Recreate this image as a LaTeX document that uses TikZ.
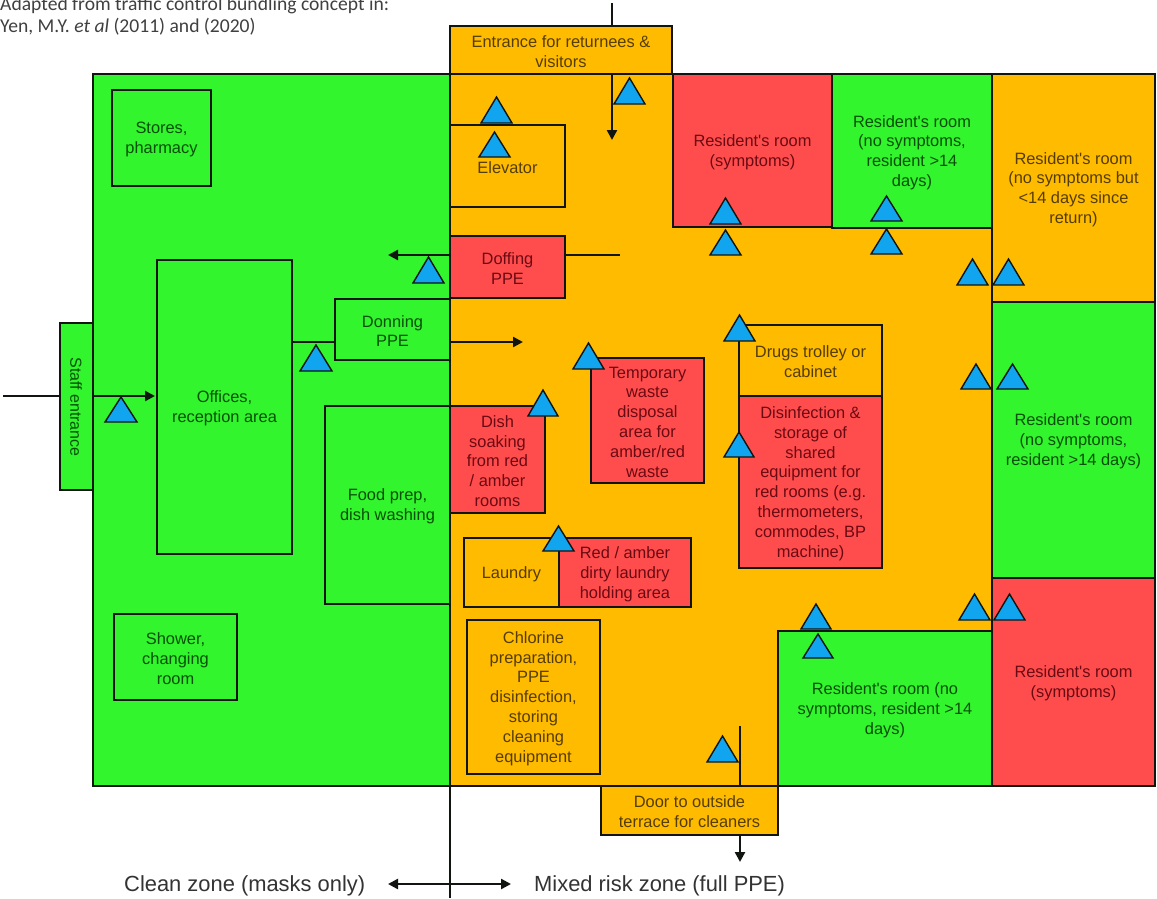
\documentclass[tikz,border=0pt]{standalone}
\usepackage{fontspec}
\setmainfont{Liberation Sans}
\newfontfamily\roomfont{Liberation Sans}
\newfontfamily\headfont{Carlito}
\usetikzlibrary{arrows.meta}
\definecolor{zgreen}{HTML}{33F52D}
\definecolor{zamber}{HTML}{FFBB00}
\definecolor{zred}{HTML}{FF4D4D}
\definecolor{zblue}{HTML}{10A5EE}
\definecolor{tgreen}{HTML}{064F06}
\definecolor{tamber}{HTML}{553D00}
\definecolor{tred}{HTML}{6A0A12}
\definecolor{lineblk}{HTML}{101510}
\tikzset{
  x=1pt,y=-1pt,
  room/.style={draw=lineblk,line width=2.8pt,inner sep=0pt,outer sep=0pt,align=center,
    font=\roomfont\fontsize{16.4}{19.8}\selectfont},
  gr/.style={room,fill=zgreen,text=tgreen},
  am/.style={room,fill=zamber,text=tamber},
  rd/.style={room,fill=zred,text=tred},
  flow/.style={draw=lineblk,line width=2.4pt,-{Triangle[length=10pt,width=10pt]}},
  plainline/.style={draw=lineblk,line width=2.4pt},
  door/.style={draw=lineblk,line width=1.4pt,fill=zblue,line join=miter},
  zonelabel/.style={inner sep=0pt,text=black!80,font=\roomfont\fontsize{21.9}{24}\selectfont},
  headlabel/.style={inner sep=0pt,anchor=west,text=black!75,font=\headfont\fontsize{19.6}{21}\selectfont}
}
% name, x1, y1, x2, y2, style, text
\newcommand{\roombox}[7]{%
  \pgfmathsetmacro{\rw}{#4-#2}\pgfmathsetmacro{\rh}{#5-#3}%
  \pgfmathsetmacro{\rcx}{(#2+#4)/2}\pgfmathsetmacro{\rcy}{(#3+#5)/2}%
  \node[#6,minimum width=\rw pt,minimum height=\rh pt] (#1) at (\rcx,\rcy) {};
  \node[#6,draw=none,fill=none,yshift=-1.5pt] (#1text) at (#1.center) {#7};}
% name, left x, apex y, right x, base y
\newcommand{\doortri}[5]{%
  \pgfmathsetmacro{\tmx}{(#2+#4)/2}%
  \draw[door] (#2,#5) -- (\tmx,#3) -- (#4,#5) -- cycle;
  \coordinate (#1) at (\tmx,#5);}
\begin{document}
\begin{tikzpicture}
\useasboundingbox (0,0) rectangle (1157,898);
\clip (0,0) rectangle (1157,898);
\fill[white] (0,0) rectangle (1157,898);

% zones
\roombox{clean}{93}{74}{450}{786}{gr}{}
\roombox{mixed}{450}{74}{1155}{786}{am}{}

% free ends of connectors
\coordinate (inTop) at (612,3);
\coordinate (inEnd) at (612,140);
\coordinate (doffStart) at (620,255);
\coordinate (doffEnd) at (388,255);
\coordinate (staffStart) at (3,396);
\coordinate (staffEnd) at (155,396);
\coordinate (donStart) at (450,342);
\coordinate (donEnd) at (523,342);
\coordinate (donLink) at (335,342);
\coordinate (termStart) at (740,726);
\coordinate (termEnd) at (740,862);
\coordinate (zoneTop) at (450,786);
\coordinate (zoneBot) at (450,898);
\coordinate (zoneL) at (388,884);
\coordinate (zoneR) at (511,884);

% connectors (rooms are drawn over them)
\draw[flow] (inTop) -- (inEnd);
\draw[flow] (doffStart) -- (doffEnd);
\draw[flow] (staffStart) -- (staffEnd);
\draw[flow] (donStart) -- (donEnd);
\draw[flow] (termStart) -- (termEnd);
\draw[plainline] (zoneTop) -- (zoneBot);
\draw[flow,{Triangle[length=10pt,width=10pt]}-{Triangle[length=10pt,width=10pt]}] (zoneL) -- (zoneR);

% clean zone rooms
\roombox{stores}{112}{90}{211}{186}{gr}{Stores,\\pharmacy}
\roombox{offices}{157}{260}{292}{554}{gr}{Offices,\\reception area}
\roombox{donning}{335}{299}{450}{360}{gr}{Donning\\PPE}
\roombox{food}{325}{406}{450}{604}{gr}{Food prep,\\dish washing}
\roombox{shower}{114}{614}{237}{700}{gr}{Shower,\\changing\\room}
\roombox{staff}{60}{323}{93}{490}{gr}{}
\node[rotate=-90,inner sep=0pt,text=tgreen,font=\roomfont\fontsize{16}{18}\selectfont] (stafftext) at (76,407) {Staff entrance};
\draw[plainline] (offices.east |- donLink) -- (donLink);

% mixed zone rooms
\roombox{entrance}{450}{26}{672}{74}{am}{Entrance for returnees \&\\visitors}
\roombox{elevator}{450}{125}{565}{207}{am}{Elevator}
\roombox{doffing}{450}{236}{565}{298}{rd}{Doffing\\PPE}
\roombox{dish}{450}{406}{545}{513}{rd}{Dish\\soaking\\from red\\/ amber\\rooms}
\roombox{laundry}{464}{538}{559}{607}{am}{Laundry}
\roombox{dirty}{559}{538}{691}{607}{rd}{Red / amber\\dirty laundry\\holding area}
\roombox{chlorine}{467}{620}{600}{774}{am}{Chlorine\\preparation,\\PPE\\disinfection,\\storing\\cleaning\\equipment}
\roombox{waste}{591}{358}{704}{483}{rd}{Temporary\\waste\\disposal\\area for\\amber/red\\waste}
\roombox{drugs}{739}{325}{882}{396}{am}{Drugs trolley or\\cabinet}
\roombox{disinf}{739}{396}{882}{568}{rd}{Disinfection \&\\storage of\\shared\\equipment for\\red rooms (e.g.\\thermometers,\\commodes, BP\\machine)}
\roombox{door}{601}{786}{778}{835}{am}{Door to outside\\terrace for cleaners}

% residents' rooms
\roombox{resA}{673}{74}{832}{227}{rd}{Resident's room\\(symptoms)}
\roombox{resB}{832}{74}{992}{228}{gr}{Resident's room\\(no symptoms,\\resident >14\\days)}
\roombox{resC}{992}{74}{1155}{302}{am}{Resident's room\\(no symptoms but\\<14 days since\\return)}
\roombox{resD}{992}{302}{1155}{578}{gr}{Resident's room\\(no symptoms,\\resident >14 days)}
\roombox{resE}{992}{578}{1155}{786}{rd}{Resident's room\\(symptoms)}
\roombox{resF}{778}{631}{992}{786}{gr}{Resident's room (no\\symptoms, resident >14\\days)}

% cleaning-point triangles
\doortri{t1}{481}{97}{512}{123}
\doortri{t2}{479}{132}{510}{157}
\doortri{t3}{614}{78}{645}{104}
\doortri{t4}{413}{257}{444}{283}
\doortri{t5}{105}{397}{137}{422}
\doortri{t6}{300}{345}{332}{371}
\doortri{t7}{528}{390}{558}{416}
\doortri{t8}{573}{343}{604}{369}
\doortri{t9}{543}{526}{574}{551}
\doortri{t10}{710}{198}{741}{224}
\doortri{t11}{710}{230}{741}{255}
\doortri{t12}{871}{196}{902}{221}
\doortri{t13}{871}{229}{902}{254}
\doortri{t14}{957}{259}{988}{285}
\doortri{t15}{993}{259}{1024}{285}
\doortri{t16}{961}{364}{991}{389}
\doortri{t17}{997}{364}{1028}{389}
\doortri{t18}{959}{594}{990}{620}
\doortri{t19}{994}{594}{1025}{620}
\doortri{t20}{801}{604}{831}{629}
\doortri{t21}{803}{634}{833}{658}
\doortri{t22}{724}{315}{755}{341}
\doortri{t23}{724}{432}{754}{457}
\doortri{t24}{707}{736}{738}{762}

% texts outside the plan
\node[headlabel] (head1) at (0,5) {Adapted from traffic control bundling concept in:};
\node[headlabel] (head2) at (0,26.5) {Yen, M.Y. \textit{et al} (2011) and (2020)};
\node[zonelabel,anchor=west] (cleanlabel) at (124,885.5) {Clean zone (masks only)};
\node[zonelabel,anchor=west] (mixedlabel) at (534,885.5) {Mixed risk zone (full PPE)};
\end{tikzpicture}
\end{document}
